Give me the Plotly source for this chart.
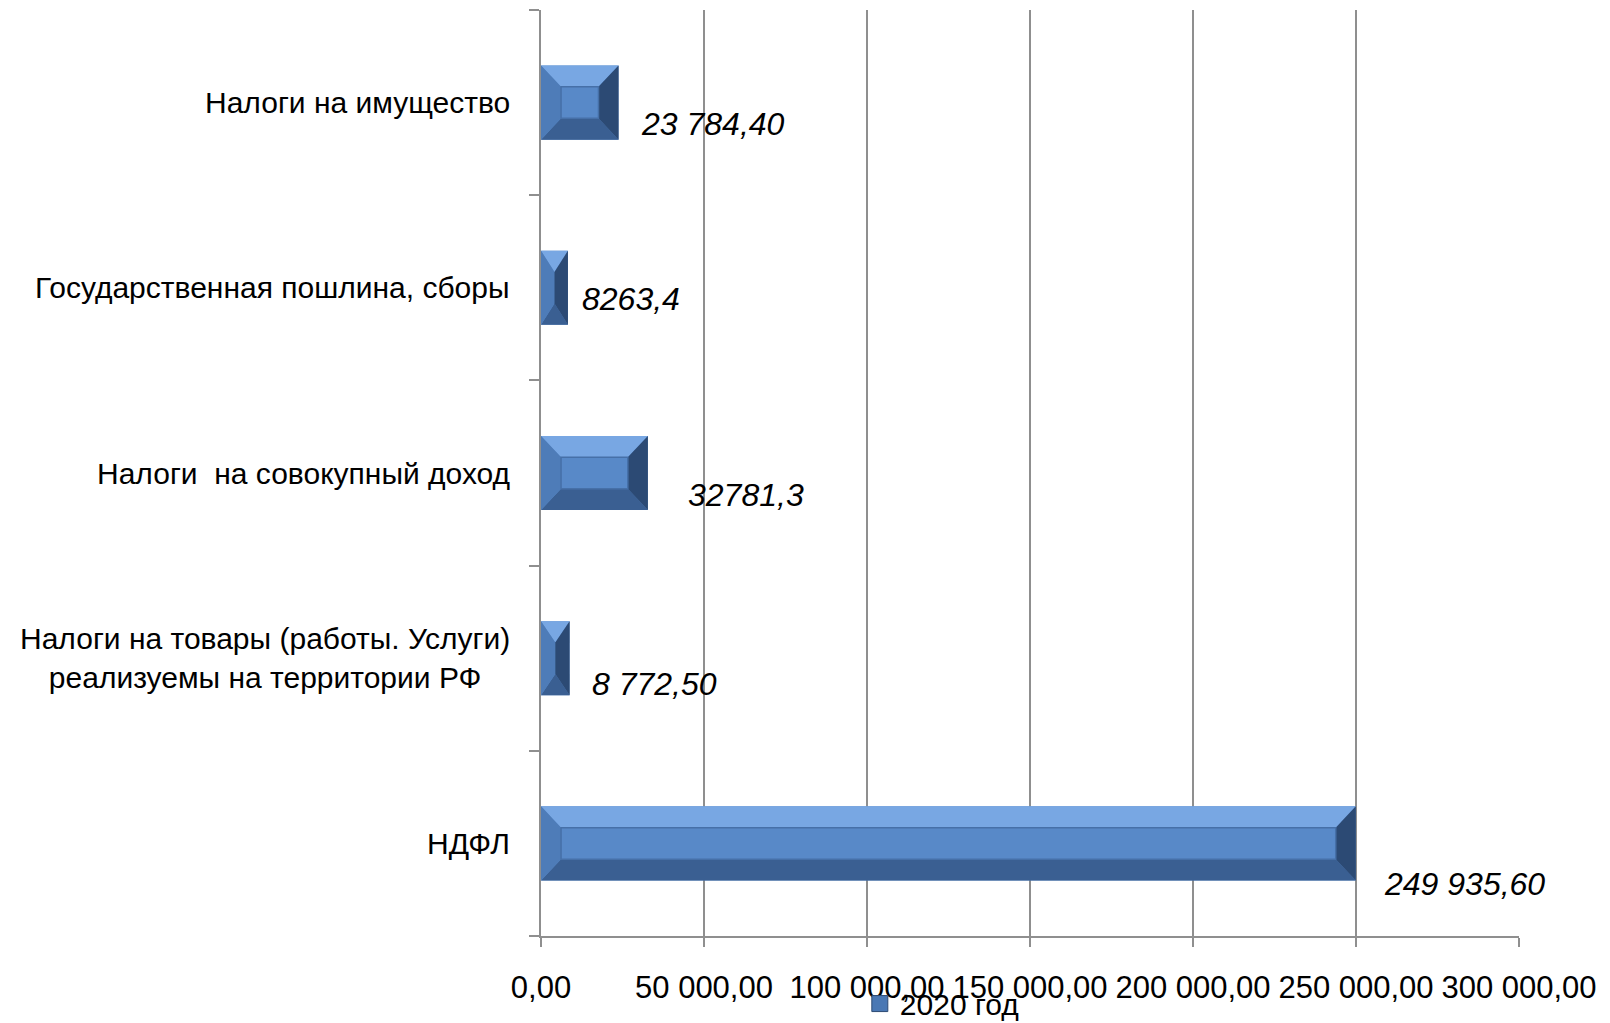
import plotly.graph_objects as go

# ---- data (top-to-bottom order as in the picture) ----
categories = [
    "Налоги на имущество",
    "Государственная пошлина, сборы",
    "Налоги\u00a0 на совокупный доход",
    "Налоги на товары (работы. Услуги)<br>реализуемы на территории РФ",
    "НДФЛ",
]
values = [23784.40, 8263.4, 32781.3, 8772.50, 249935.60]
value_labels = ["23 784,40", "8263,4", "32781,3", "8 772,50", "249 935,60"]
series_name = "2020 год"
x_ticks = [0, 50000, 100000, 150000, 200000, 250000, 300000]

# ---- style constants ----
label_dx = [20, 12, 38, 20, 26]      # px offset of value labels from bar end
label_dy = [21, 11, 22, 26, 41]      # px offset downward
FONT = "Liberation Sans, Arial, sans-serif"
GRID = "#8f8f8f"
BAR_HALF = 0.2                        # half bar thickness (category units)
INSET_Y = 0.115                       # bevel depth (category units)
INSET_X = 6150                        # bevel depth (value units)

idx = list(range(len(categories)))

fig = go.Figure()
fig.add_trace(go.Bar(
    y=idx, x=values, orientation="h", name=series_name,
    width=2 * BAR_HALF,
    marker=dict(color="#5889C8", line=dict(width=0)),
    showlegend=False,
))
# legend entry (larger square swatch like the reference)
fig.add_trace(go.Scatter(
    x=[None], y=[None], mode="markers", name=series_name,
    marker=dict(symbol="square", size=16, color="#4A78B4",
                line=dict(width=1, color="#2C4A74")),
    showlegend=True, hoverinfo="skip",
))

# bevel faces drawn in data coordinates
shapes = []
def poly(pts, fill, line=None, lw=0):
    path = "M " + " L ".join(f"{x},{y}" for x, y in pts) + " Z"
    d = dict(type="path", path=path, xref="x", yref="y", fillcolor=fill,
             layer="above", line=dict(width=lw, color=line or fill))
    shapes.append(d)

for i, v in zip(idx, values):
    top, bot = i - BAR_HALF, i + BAR_HALF
    ix = min(INSET_X, v / 2)
    it, ib = top + INSET_Y, bot - INSET_Y
    poly([(0, top), (v, top), (v - ix, it), (ix, it)], "#78A7E3")
    poly([(0, bot), (v, bot), (v - ix, ib), (ix, ib)], "#3A5F92")
    poly([(0, top), (0, bot), (ix, ib), (ix, it)], "#4E7CB8")
    poly([(v, top), (v, bot), (v - ix, ib), (v - ix, it)], "#2C4A74")
    if v - 2 * ix > 0:
        poly([(ix, it), (v - ix, it), (v - ix, ib), (ix, ib)], "#5889C8", "#4670A8", 1.5)

annotations = []
for i, v, t, dx, dy in zip(idx, values, value_labels, label_dx, label_dy):
    annotations.append(dict(
        x=v, y=i, xref="x", yref="y", text=t, showarrow=False,
        xanchor="left", yanchor="middle", xshift=dx, yshift=-dy,
        font=dict(family=FONT, size=32, color="black", style="italic"),
    ))
for i, c in zip(idx, categories):
    annotations.append(dict(
        x=0, y=i, xref="paper", yref="y", text=c, showarrow=False,
        xanchor="right", yanchor="middle", xshift=-29, align="center",
        font=dict(family=FONT, size=30, color="black"),
    ))

fig.update_layout(
    width=1610, height=1023,
    margin=dict(l=541, r=91, t=10, b=87, autoexpand=False),
    paper_bgcolor="white", plot_bgcolor="white",
    separators=", ",
    font=dict(family=FONT, size=30, color="black"),
    shapes=shapes, annotations=annotations,
    bargap=0.6,
    legend=dict(orientation="h", x=0.326, y=0.019, xanchor="left", yanchor="middle",
                yref="container",
                font=dict(family=FONT, size=30, color="black"),
                bgcolor="rgba(0,0,0,0)"),
    xaxis=dict(
        range=[0, 300000], tickmode="array", tickvals=x_ticks, tickformat=",.2f",
        showgrid=True, gridcolor=GRID, gridwidth=1.5, zeroline=False,
        showline=True, linecolor=GRID, linewidth=2,
        ticks="outside", ticklen=9, tickwidth=2, tickcolor=GRID,
        ticklabelstandoff=14, automargin=False,
        tickfont=dict(family=FONT, size=31, color="black"),
    ),
    yaxis=dict(
        range=[4.5, -0.5], tickmode="linear", tick0=0, dtick=1,
        showticklabels=False, ticks="", showgrid=False, zeroline=False,
        showline=True, linecolor=GRID, linewidth=2, automargin=False,
        minor=dict(ticks="outside", ticklen=10, tickwidth=2, tickcolor=GRID,
                   tick0=-0.5, dtick=1, showgrid=False),
    ),
)

fig.write_html("out.html", config={"displayModeBar": False},
               post_script="document.body.style.margin='0';")
